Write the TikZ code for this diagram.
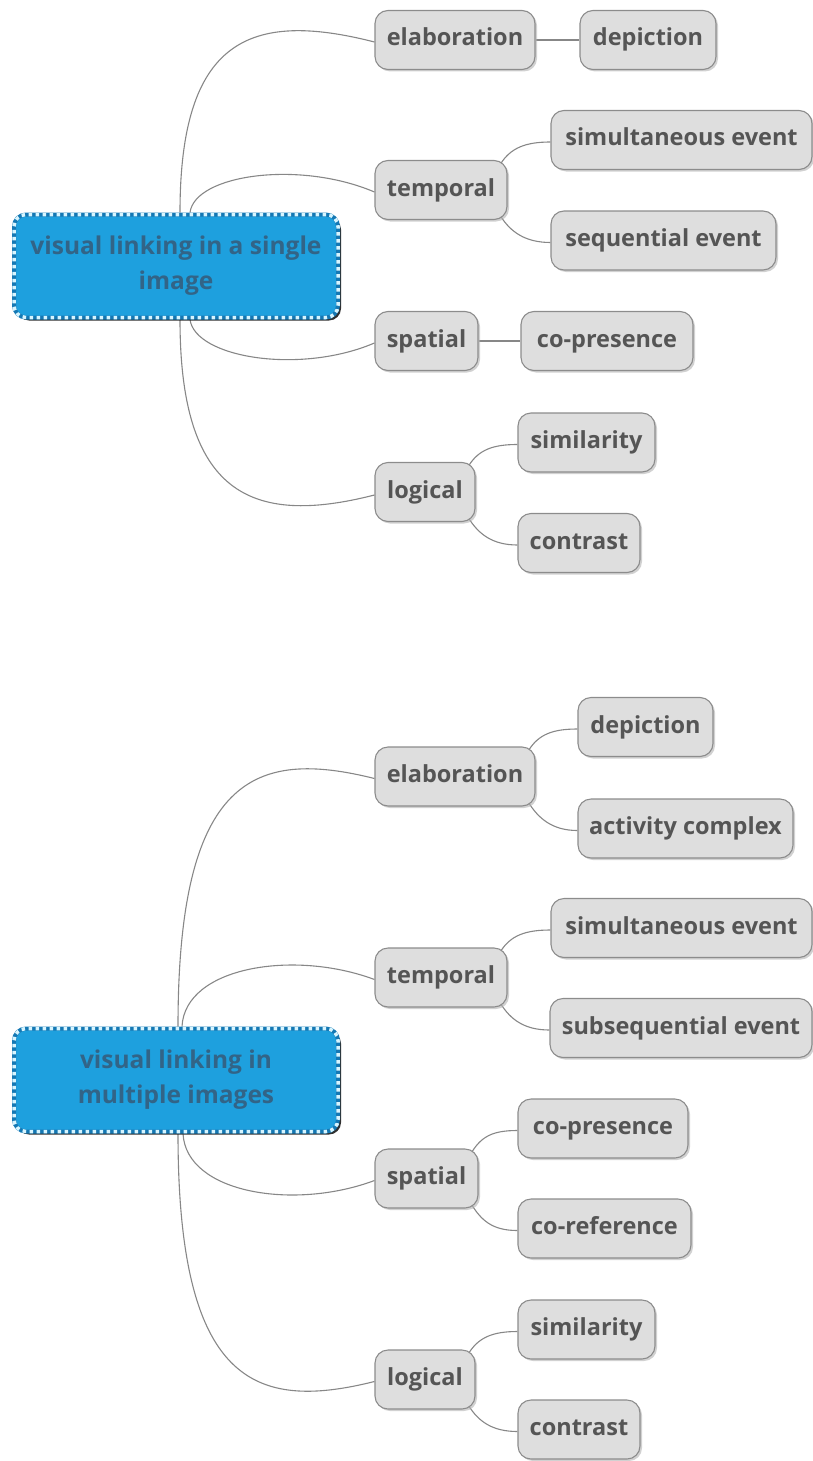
\documentclass[tikz,border=0pt]{standalone}
\usepackage{fontspec}
\setmainfont{Open Sans}
\usetikzlibrary{shadows,backgrounds}
\definecolor{boxfill}{RGB}{222,222,222}
\definecolor{boxline}{RGB}{140,140,140}
\definecolor{boxtext}{RGB}{85,85,85}
\definecolor{rootfill}{RGB}{30,160,222}
\definecolor{rootdots}{RGB}{215,245,255}
\definecolor{rootedge}{RGB}{20,120,180}
\definecolor{roottext}{RGB}{50,100,135}
\definecolor{wire}{RGB}{135,135,135}
\tikzset{
  topic/.style={draw=boxline, fill=boxfill, line width=1.1pt, rounded corners=13pt,
    text=boxtext, font=\fontsize{23.5}{27}\selectfont\bfseries, inner xsep=3pt,
    inner ysep=0pt, minimum height=59pt, text height=17pt, text depth=5pt,
    drop shadow={shadow xshift=2pt, shadow yshift=-2pt, fill=black!30, opacity=0.6}},
  root/.style={fill=rootfill, rounded corners=12pt, text=roottext, align=center,
    font=\fontsize{24.5}{35}\selectfont\bfseries, minimum width=324pt, minimum height=103pt,
    draw=rootedge, line width=4pt,
    postaction={draw=rootdots, line width=3.5pt, dash pattern=on 3.5pt off 3.5pt},
    drop shadow={shadow xshift=3pt, shadow yshift=-3pt, fill=black!90, opacity=0.9}},
  wire/.style={draw=wire, line width=1.1pt}
}
\begin{document}
\begin{tikzpicture}[x=1pt,y=1pt]
\useasboundingbox (0,0) rectangle (813,-1461);

% ---- first map: a single image ----
\node[root] (r1) at (176,-266) {visual linking in a single\\image};
\node[topic, minimum width=160pt] (el1) at (455,-40) {elaboration};
\node[topic, minimum width=136pt] (dep1) at (648,-40) {depiction};
\node[topic, minimum width=132pt] (t1) at (441,-190) {temporal};
\node[topic, minimum width=261pt] (sim1) at (681.5,-140) {simultaneous event};
\node[topic, minimum width=225pt] (seq1) at (663.5,-240.5) {sequential event};
\node[topic, minimum width=103pt] (sp1) at (426.5,-341) {spatial};
\node[topic, minimum width=172pt] (cop1) at (607,-341) {co-presence};
\node[topic, minimum width=100pt] (lo1) at (425,-492) {logical};
\node[topic, minimum width=137pt] (simil1) at (586.5,-442.5) {similarity};
\node[topic, minimum width=122pt] (con1) at (579,-543) {contrast};

% ---- second map: multiple images ----
\node[root] (r2) at (176,-1080) {visual linking in\\multiple images};
\node[topic, minimum width=160pt] (el2) at (455,-776.5) {elaboration};
\node[topic, minimum width=135pt] (dep2) at (645.5,-727) {depiction};
\node[topic, minimum width=215pt] (act2) at (685.5,-828.5) {activity complex};
\node[topic, minimum width=132pt] (t2) at (441,-977.5) {temporal};
\node[topic, minimum width=261pt] (sim2) at (681.5,-928) {simultaneous event};
\node[topic, minimum width=262pt] (sub2) at (681,-1028) {subsequential event};
\node[topic, minimum width=103pt] (sp2) at (426.5,-1178.5) {spatial};
\node[topic, minimum width=170pt] (cop2) at (603,-1128.5) {co-presence};
\node[topic, minimum width=173pt] (cor2) at (604.5,-1228.5) {co-reference};
\node[topic, minimum width=100pt] (lo2) at (425,-1379.5) {logical};
\node[topic, minimum width=137pt] (simil2) at (586.5,-1329.5) {similarity};
\node[topic, minimum width=122pt] (con2) at (579,-1429.5) {contrast};

\begin{scope}[on background layer]
  % branches of the first map
  \draw[wire] ([xshift=4pt]r1.north) .. controls +(0,173) and +(-125,32) .. ([yshift=-2pt]el1.west);
  \draw[wire] ([xshift=14pt]r1.north) .. controls +(5,38) and +(-75,32) .. ([yshift=-2pt]t1.west);
  \draw[wire] ([xshift=14pt]r1.south) .. controls +(5,-38) and +(-75,-32) .. ([yshift=-2pt]sp1.west);
  \draw[wire] ([xshift=4pt]r1.south) .. controls +(0,-173) and +(-125,-32) .. ([yshift=-3pt]lo1.west);
  \draw[wire] (el1.east) -- (dep1.west);
  \draw[wire] (sp1.east) -- (cop1.west);
  \draw[wire] ([xshift=-7pt,yshift=-4pt]t1.north east) .. controls +(10,16) and +(-25,0) .. ([yshift=-2pt]sim1.west);
  \draw[wire] ([xshift=-7pt,yshift=4pt]t1.south east) .. controls +(10,-16) and +(-25,0) .. ([yshift=-2pt]seq1.west);
  \draw[wire] ([xshift=-7pt,yshift=-4pt]lo1.north east) .. controls +(10,16) and +(-25,0) .. ([yshift=-2pt]simil1.west);
  \draw[wire] ([xshift=-7pt,yshift=4pt]lo1.south east) .. controls +(10,-16) and +(-25,0) .. ([yshift=-2pt]con1.west);

  % branches of the second map
  \draw[wire] ([xshift=2pt]r2.north) .. controls +(0,250) and +(-120,30) .. ([yshift=-2pt]el2.west);
  \draw[wire] ([xshift=6pt]r2.north) .. controls +(3,60) and +(-80,30) .. ([yshift=-2pt]t2.west);
  \draw[wire] ([xshift=7pt]r2.south) .. controls +(3,-60) and +(-80,-30) .. ([yshift=-2pt]sp2.west);
  \draw[wire] ([xshift=2pt]r2.south) .. controls +(0,-250) and +(-120,-30) .. ([yshift=-2pt]lo2.west);
  \draw[wire] ([xshift=-7pt,yshift=-4pt]el2.north east) .. controls +(10,16) and +(-25,0) .. ([yshift=-2pt]dep2.west);
  \draw[wire] ([xshift=-7pt,yshift=4pt]el2.south east) .. controls +(10,-16) and +(-25,0) .. ([yshift=-2pt]act2.west);
  \draw[wire] ([xshift=-7pt,yshift=-4pt]t2.north east) .. controls +(10,16) and +(-25,0) .. ([yshift=-2pt]sim2.west);
  \draw[wire] ([xshift=-7pt,yshift=4pt]t2.south east) .. controls +(10,-16) and +(-25,0) .. ([yshift=-2pt]sub2.west);
  \draw[wire] ([xshift=-7pt,yshift=-4pt]sp2.north east) .. controls +(10,16) and +(-25,0) .. ([yshift=-2pt]cop2.west);
  \draw[wire] ([xshift=-7pt,yshift=4pt]sp2.south east) .. controls +(10,-16) and +(-25,0) .. ([yshift=-2pt]cor2.west);
  \draw[wire] ([xshift=-7pt,yshift=-4pt]lo2.north east) .. controls +(10,16) and +(-25,0) .. ([yshift=-2pt]simil2.west);
  \draw[wire] ([xshift=-7pt,yshift=4pt]lo2.south east) .. controls +(10,-16) and +(-25,0) .. ([yshift=-2pt]con2.west);
\end{scope}
\end{tikzpicture}
\end{document}
